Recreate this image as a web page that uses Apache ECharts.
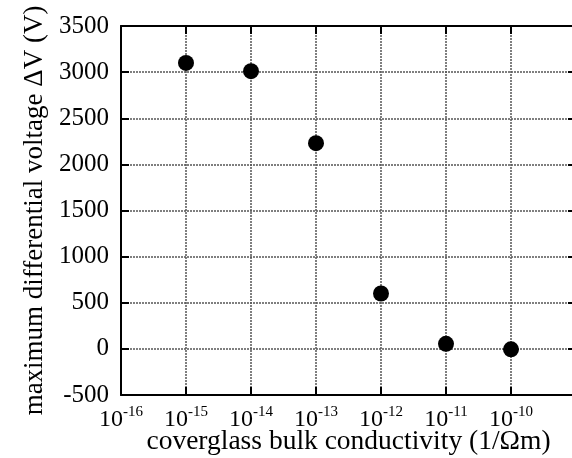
<!DOCTYPE html>
<html>
<head>
<meta charset="utf-8">
<script src="https://cdn.jsdelivr.net/npm/echarts@6/dist/echarts.min.js"></script>
<style>
  html, body { margin: 0; padding: 0; background: #fff; }
  #chart { width: 572px; height: 458px; }
</style>
</head>
<body>
<div id="chart"></div>
<script>
// conductivity (1/Ohm m) and max differential voltage (V)
var conductivity = [1e-15, 1e-14, 1e-13, 1e-12, 1e-11, 1e-10];
var deltaV = [3100, 3010, 2230, 600, 55, -5];

var font = 'Liberation Serif';
var gridColor = '#555';

// 10^n labels, the 10^-9 edge is left empty
function expLabel(v) {
  var e = Math.round(Math.log10(v));
  if (e > -10) return '';
  return '{base|10}{sup|' + e + '}';
}

var chartDom = document.getElementById('chart');
var myChart = echarts.init(chartDom);
var option;

option = {
  animation: false,
  grid: { left: 121, top: 26, right: -4, bottom: 63, containLabel: false, outerBoundsMode: 'none' },
  xAxis: [
    {
      type: 'log',
      logBase: 10,
      min: 1e-16,
      max: 1e-9,
      name: 'coverglass bulk conductivity (1/\u03A9m)',
      nameLocation: 'middle',
      nameGap: 33,
      nameMoveOverlap: false,
      nameTextStyle: { fontFamily: font, fontSize: 27.5, color: '#000' },
      axisLine: { onZero: false, lineStyle: { color: '#000', width: 2 } },
      axisTick: { inside: true, length: 8, lineStyle: { color: '#000', width: 2 } },
      axisLabel: {
        formatter: expLabel,
        margin: 10,
        color: '#000',
        fontFamily: font,
        fontSize: 24,
        showMinLabel: true,
        rich: {
          base: { fontFamily: font, fontSize: 24, lineHeight: 30, color: '#000' },
          sup: { fontFamily: font, fontSize: 15, lineHeight: 14, color: '#000', verticalAlign: 'top' }
        }
      },
      splitLine: { show: true, lineStyle: { color: gridColor, type: [2, 1], width: 1.5 } }
    },
    {
      type: 'log',
      logBase: 10,
      min: 1e-16,
      max: 1e-9,
      position: 'top',
      axisLine: { onZero: false, lineStyle: { color: '#000', width: 2 } },
      axisTick: { inside: true, length: 8, lineStyle: { color: '#000', width: 2 } },
      axisLabel: { show: false },
      splitLine: { show: false }
    }
  ],
  yAxis: [
    {
      type: 'value',
      min: -500,
      max: 3500,
      interval: 500,
      name: 'maximum differential voltage \u0394V (V)',
      nameLocation: 'middle',
      nameGap: 73,
      nameMoveOverlap: false,
      nameTextStyle: { fontFamily: font, fontSize: 27, color: '#000' },
      axisLine: { show: true, onZero: false, lineStyle: { color: '#000', width: 2 } },
      axisTick: { show: true, inside: true, length: 8, lineStyle: { color: '#000', width: 2 } },
      axisLabel: {
        margin: 12,
        color: '#000',
        fontFamily: font,
        fontSize: 25,
        padding: [0, 0, 8, 0],
        formatter: function (v) { return String(v); }
      },
      splitLine: { show: true, lineStyle: { color: gridColor, type: [2, 1], width: 1.5 } }
    },
    {
      type: 'value',
      min: -500,
      max: 3500,
      interval: 500,
      position: 'right',
      axisLine: { show: true, onZero: false, lineStyle: { color: '#000', width: 2 } },
      axisTick: { show: true, inside: true, length: 8, lineStyle: { color: '#000', width: 2 } },
      axisLabel: { show: false },
      splitLine: { show: false }
    }
  ],
  series: [
    {
      type: 'scatter',
      symbol: 'circle',
      symbolSize: 16,
      itemStyle: { color: '#000', opacity: 1 },
      data: conductivity.map(function (c, i) { return [c, deltaV[i]]; })
    }
  ]
};

option && myChart.setOption(option);
</script>
</body>
</html>
